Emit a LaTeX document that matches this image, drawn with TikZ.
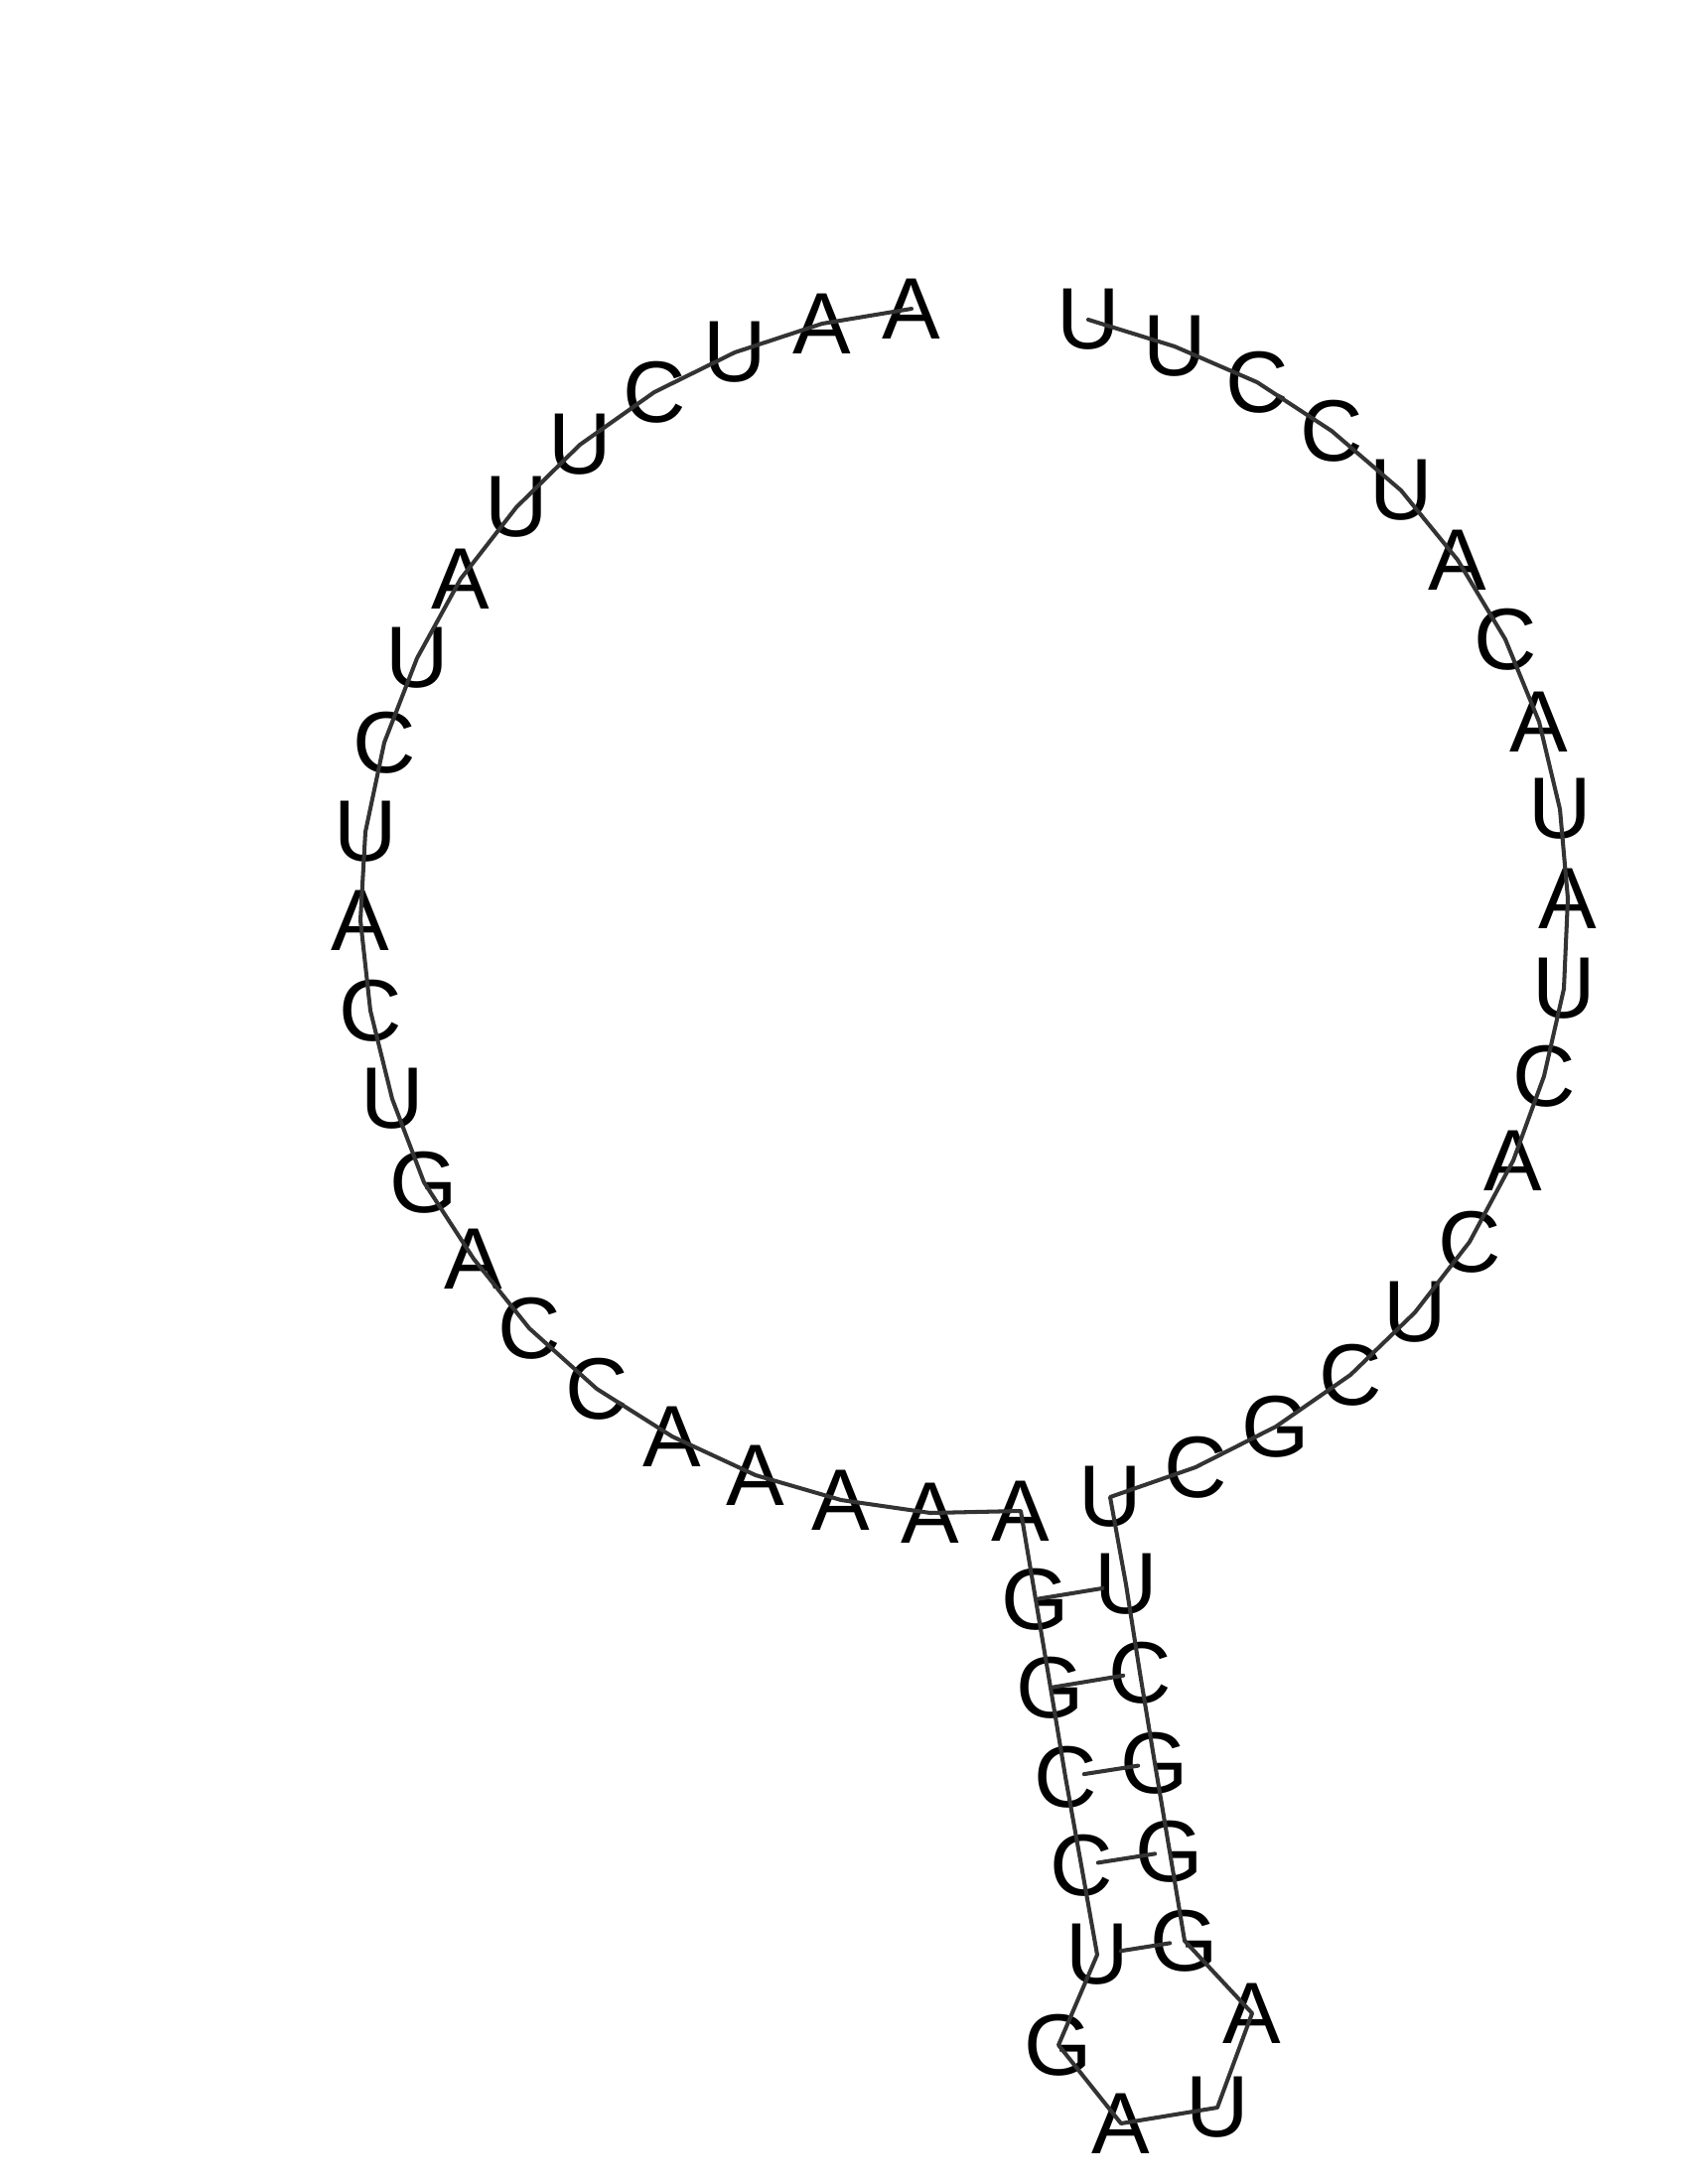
\documentclass[tikz,border=0pt]{standalone}
\usepackage{fontspec}
\setmainfont{Liberation Sans}
\usetikzlibrary{calc}
\definecolor{strandGray}{RGB}{51,51,51}
\begin{document}
\begin{tikzpicture}[x=0.1mm,y=-0.1mm,line cap=round,line join=round,
  base/.style={inner sep=0pt,font=\fontsize{25}{25}\selectfont},
  backbone/.style={strandGray,line width=1.15pt},
  pairline/.style={strandGray,line width=1.15pt}]
  \useasboundingbox (0,0) rectangle (1700,2200);
  % multiloop, left side
  \node[base] (b1) at (918,311) {A};
  \node[base] (b2) at (828,326) {A};
  \node[base] (b3) at (740,355) {U};
  \node[base] (b4) at (659,395) {C};
  \node[base] (b5) at (584,448) {U};
  \node[base] (b6) at (520,511) {U};
  \node[base] (b7) at (464,583) {A};
  \node[base] (b8) at (420,663) {U};
  \node[base] (b9) at (387,748) {C};
  \node[base] (b10) at (368,838) {U};
  \node[base] (b11) at (363,927) {A};
  \node[base] (b12) at (373,1018) {C};
  \node[base] (b13) at (395,1107) {U};
  \node[base] (b14) at (427,1191) {G};
  \node[base] (b15) at (477,1268) {A};
  \node[base] (b16) at (533,1338) {C};
  \node[base] (b17) at (601,1399) {C};
  \node[base] (b18) at (677,1447) {A};
  \node[base] (b19) at (761,1486) {A};
  \node[base] (b20) at (847,1511) {A};
  \node[base] (b21) at (937,1524) {A};
  \node[base] (b22) at (1028,1522) {A};
  % stem and hairpin
  \node[base] (b23) at (1043,1611) {G};
  \node[base] (b24) at (1058,1700) {G};
  \node[base] (b25) at (1073,1790) {C};
  \node[base] (b26) at (1089,1879) {C};
  \node[base] (b27) at (1105,1969) {U};
  \node[base] (b28) at (1066,2060) {G};
  \node[base] (b29) at (1129,2139) {A};
  \node[base] (b30) at (1226,2123) {U};
  \node[base] (b31) at (1261,2028) {A};
  \node[base] (b32) at (1193,1955) {G};
  \node[base] (b33) at (1178,1865) {G};
  \node[base] (b34) at (1163,1776) {G};
  \node[base] (b35) at (1148,1685) {C};
  \node[base] (b36) at (1134,1596) {U};
  % multiloop, right side
  \node[base] (b37) at (1118,1508) {U};
  \node[base] (b38) at (1204,1478) {C};
  \node[base] (b39) at (1285,1437) {G};
  \node[base] (b40) at (1360,1385) {C};
  \node[base] (b41) at (1425,1322) {U};
  \node[base] (b42) at (1480,1251) {C};
  \node[base] (b43) at (1524,1169) {A};
  \node[base] (b44) at (1555,1084) {C};
  \node[base] (b45) at (1575,996) {U};
  \node[base] (b46) at (1579,905) {A};
  \node[base] (b47) at (1571,815) {U};
  \node[base] (b48) at (1550,727) {A};
  \node[base] (b49) at (1516,644) {C};
  \node[base] (b50) at (1468,564) {A};
  \node[base] (b51) at (1411,494) {U};
  \node[base] (b52) at (1341,434) {C};
  \node[base] (b53) at (1266,385) {C};
  \node[base] (b54) at (1183,349) {U};
  \node[base] (b55) at (1096,322) {U};
  % backbone
  \draw[backbone] (b1.center)--(b2.center)--(b3.center)--(b4.center)--(b5.center)
    --(b6.center)--(b7.center)--(b8.center)--(b9.center)--(b10.center)
    --(b11.center)--(b12.center)--(b13.center)--(b14.center)--(b15.center)
    --(b16.center)--(b17.center)--(b18.center)--(b19.center)--(b20.center)
    --(b21.center)--(b22.center)--(b23.center)--(b24.center)--(b25.center)
    --(b26.center)--(b27.center)--(b28.center)--(b29.center)--(b30.center)
    --(b31.center)--(b32.center)--(b33.center)--(b34.center)--(b35.center)
    --(b36.center)--(b37.center)--(b38.center)--(b39.center)--(b40.center)
    --(b41.center)--(b42.center)--(b43.center)--(b44.center)--(b45.center)
    --(b46.center)--(b47.center)--(b48.center)--(b49.center)--(b50.center)
    --(b51.center)--(b52.center)--(b53.center)--(b54.center)--(b55.center);
  % base pairs
  \draw[pairline,shorten <=0.3mm,shorten >=2.4mm] (b23.center)--(b36.center);
  \draw[pairline,shorten <=0.2mm,shorten >=1.7mm] (b24.center)--(b35.center);
  \draw[pairline,shorten <=1.9mm,shorten >=1.7mm] (b25.center)--(b34.center);
  \draw[pairline,shorten <=1.7mm,shorten >=1.5mm] (b26.center)--(b33.center);
  \draw[pairline,shorten <=2.4mm,shorten >=1.5mm] (b27.center)--(b32.center);
\end{tikzpicture}
\end{document}
